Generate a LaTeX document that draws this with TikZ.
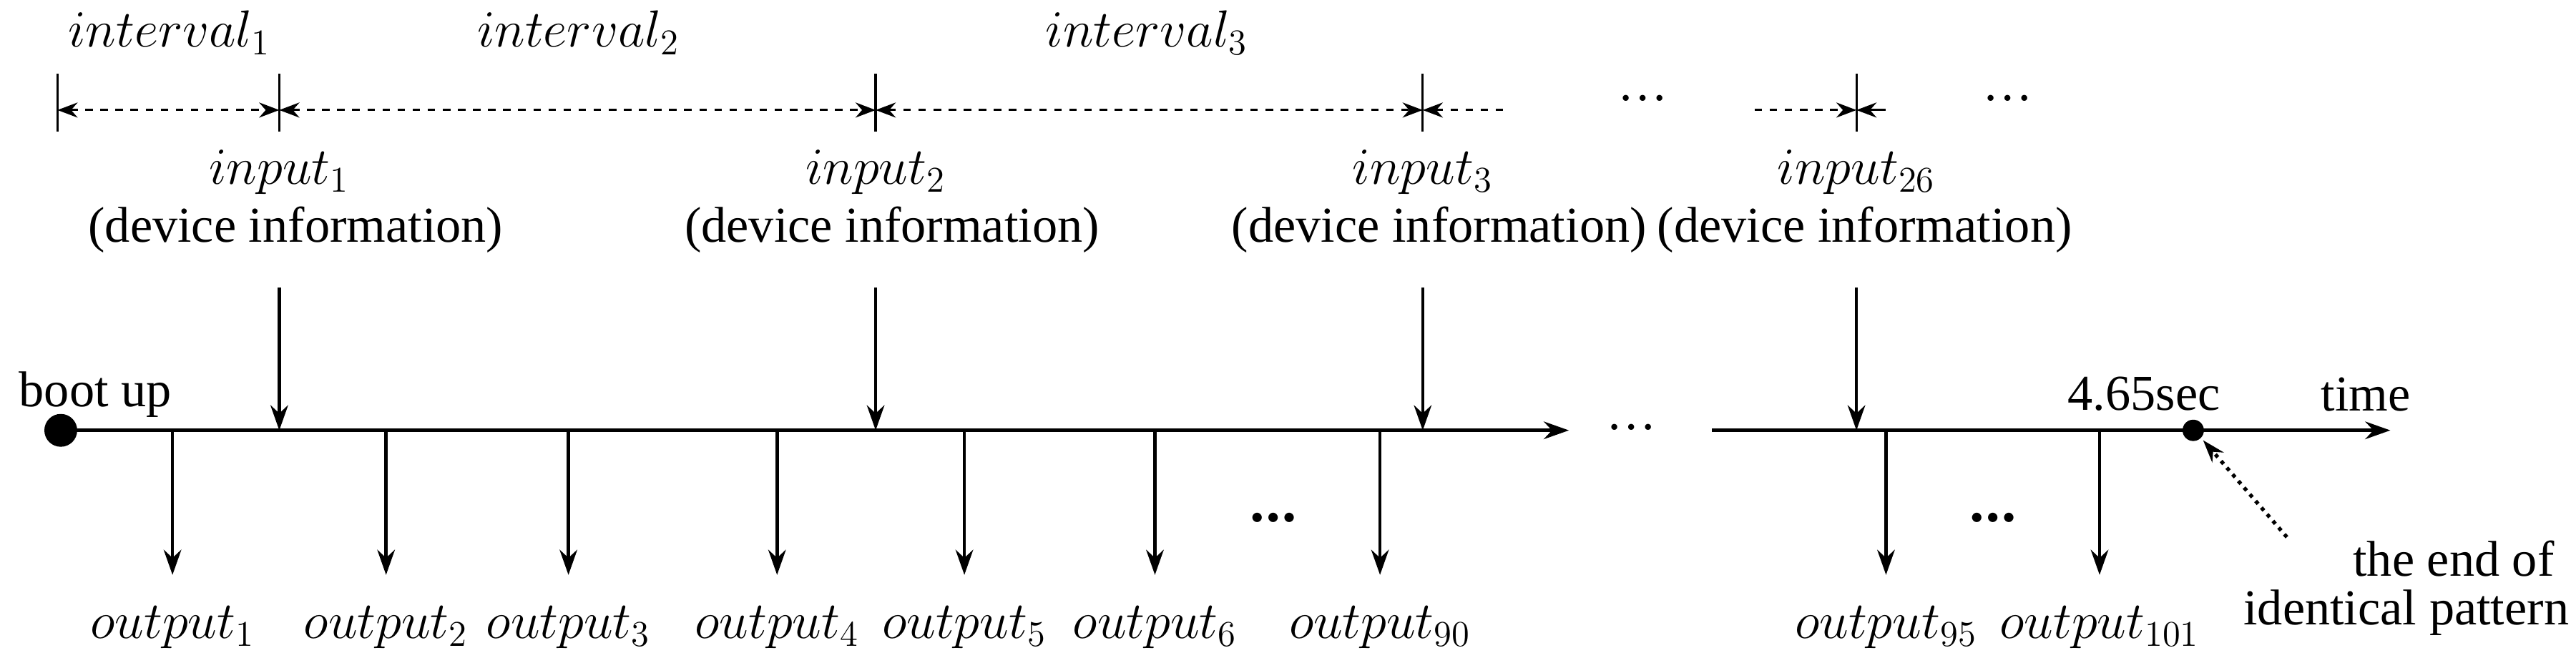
\documentclass[tikz,border=0pt]{standalone}
\usepackage{fontspec}
\newfontfamily\tnr{Liberation Serif}
\usetikzlibrary{arrows.meta}
\begin{document}
\begin{tikzpicture}[x=0.02297cm,y=-0.02297cm,
  txt/.style={font=\tnr\fontsize{20}{22}\selectfont,inner sep=0pt},
  ar/.style={-{Stealth[length=10pt,width=7pt]},line width=1.3pt},
  dim/.style={{Stealth[length=8pt,width=6pt]}-{Stealth[length=8pt,width=6pt]},dashed,line width=0.9pt},
  tick/.style={line width=0.9pt}]
\useasboundingbox (0,0) rectangle (1568,403.6);
\foreach \n/\x in {t0/35,t1/170,t2/533,t3/866,t4/1130}{
  \coordinate (\n a) at (\x,45); \coordinate (\n b) at (\x,80);
  \draw[tick] (\n a) -- (\n b);
  \coordinate (\n) at (\x,67);}
\draw[dim] (t0) -- (t1);
\draw[dim] (t1) -- (t2);
\draw[dim] (t2) -- (t3);
\coordinate (d3e) at (918,67); \coordinate (d4s) at (1068,67); \coordinate (d5e) at (1148,67);
\draw[dim,{Stealth[length=8pt,width=6pt]}-] (t3) -- (d3e);
\draw[dim,-{Stealth[length=8pt,width=6pt]}] (d4s) -- (t4);
\draw[line width=0.9pt,{Stealth[length=8pt,width=6pt]}-] (t4) -- (d5e);
\node[txt] (dd1) at (1000,60) {\dots};
\node[txt] (dd2) at (1222,60) {\dots};
\node[txt] (iv1) at (103,20) {$interval_1$};
\node[txt] (iv2) at (352,20) {$interval_2$};
\node[txt] (iv3) at (698,20) {$interval_3$};
\foreach \n/\x/\s in {1/170/1,2/533/2,3/866/3,4/1130/26}{
  \node[txt] (in\n) at (\x,105) {$input_{\s}$};
  \coordinate (ia\n) at (\x,175); \coordinate (ib\n) at (\x,262);
  \draw[ar] (ia\n) -- (ib\n);}
\node[txt] (di1) at (180,140) {(device information)};
\node[txt] (di2) at (543,140) {(device information)};
\node[txt] (di3) at (876,140) {(device information)};
\node[txt] (di4) at (1135,140) {(device information)};
\coordinate (a0) at (37,262); \coordinate (a1) at (955,262);
\coordinate (a2) at (1042,262); \coordinate (a3) at (1455,262);
\draw[ar] (a0) -- (a1);
\draw[ar] (a2) -- (a3);
\node[txt] (ad) at (993,260) {\dots};
\fill (a0) circle (10);
\coordinate (endp) at (1335,262);
\fill (endp) circle (6.5);
\node[txt] (boot) at (58,240) {boot up};
\node[txt] (sec) at (1305,240) {4.65sec};
\node[txt] (time) at (1440,240) {time};
\foreach \n/\x/\s in {1/105/1,2/235/2,3/346/3,4/473/4,5/587/5,6/703/6,7/840/90,8/1148/95,9/1278/101}{
  \coordinate (oa\n) at (\x,262); \coordinate (ob\n) at (\x,350);
  \draw[ar] (oa\n) -- (ob\n);
  \node[txt] (out\n) at (\x,382) {$output_{\s}$};}
\node[txt,font=\fontsize{26}{28}\selectfont\bfseries] (od1) at (775,315) {\dots};
\node[txt,font=\fontsize{26}{28}\selectfont\bfseries] (od2) at (1213,315) {\dots};
\coordinate (ep) at (1392,327);
\draw[-{Stealth[length=9pt,width=6pt]},dotted,line width=1.5pt] (ep) -- (1341,268);
\node[txt,anchor=east] (e1) at (1555,340) {the end of};
\node[txt,anchor=east] (e2) at (1564,373) {identical pattern};
\end{tikzpicture}
\end{document}
